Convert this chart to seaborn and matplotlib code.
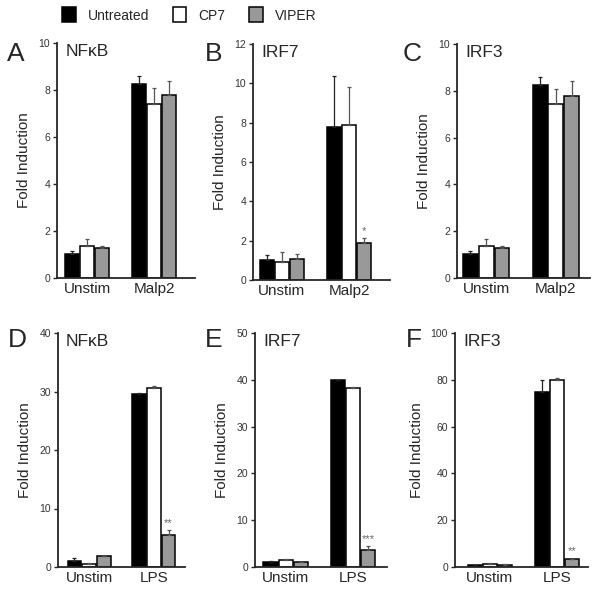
import matplotlib
matplotlib.use('Agg')
import matplotlib.pyplot as plt
import numpy as np
import pandas as pd
import seaborn as sns

sns.set_style('ticks')
plt.rcParams['font.family'] = ['Liberation Sans', 'DejaVu Sans']

# treatments and colours
treatments = ['Untreated', 'CP7', 'VIPER']
bar_colors = ['#000000', '#ffffff', '#999999']

# panel info
letters = ['A', 'B', 'C', 'D', 'E', 'F']
titles = ['NF\u03baB', 'IRF7', 'IRF3', 'NF\u03baB', 'IRF7', 'IRF3']
stims = [['Unstim', 'Malp2']] * 3 + [['Unstim', 'LPS']] * 3
ymax = [10, 12, 10, 40, 50, 100]
ystep = [2, 2, 2, 10, 10, 20]

# values: [Untreated, CP7, VIPER] for Unstim then stimulated
means_A = [[1.02, 1.35, 1.27], [8.25, 7.42, 7.78]]
errs_A = [[0.15, 0.3, 0.08], [0.35, 0.66, 0.62]]
means_B = [[1.0, 0.93, 1.06], [7.8, 7.88, 1.9]]
errs_B = [[0.27, 0.48, 0.25], [2.55, 1.95, 0.22]]
means_C = [[1.02, 1.35, 1.27], [8.25, 7.42, 7.78]]
errs_C = [[0.15, 0.3, 0.08], [0.35, 0.66, 0.62]]
means_D = [[0.97, 0.57, 1.85], [29.5, 30.6, 5.55]]
errs_D = [[0.5, 0.1, 0.05], [0.2, 0.4, 0.75]]
means_E = [[1.05, 1.4, 1.05], [39.9, 38.2, 3.55]]
errs_E = [[0.25, 0.25, 0.1], [0.15, 0.25, 0.85]]
means_F = [[0.7, 1.4, 1.0], [74.6, 80.0, 3.4]]
errs_F = [[0.2, 0.4, 0.1], [5.4, 0.7, 0.1]]
all_means = [means_A, means_B, means_C, means_D, means_E, means_F]
all_errs = [errs_A, errs_B, errs_C, errs_D, errs_E, errs_F]

# significance stars on VIPER stimulated bar
stars = ['', '*', '', '**', '***', '**']

# layout (pixels in 600x595 figure): left, right, top, bottom
boxes = [(57, 195, 43, 278), (253, 390, 44, 280), (457, 590, 44, 278),
         (58, 185, 333, 567), (255, 387, 333, 567), (455, 588, 333, 567)]
xlims = [(-0.45, 1.61), (-0.43, 1.61), (-0.42, 1.49),
         (-0.48, 1.48), (-0.46, 1.51), (-0.52, 1.46)]
letter_pos = [(7, 42), (205, 42), (403, 42), (8, 328), (205, 328), (406, 328)]

W, H = 600, 595
fig = plt.figure(figsize=(6, 5.95), dpi=100)

handles = None
for i in range(6):
    l, r, t, b = boxes[i]
    ax = fig.add_axes([l / W, 1 - b / H, (r - l) / W, (b - t) / H])
    rows = []
    for si, s in enumerate(stims[i]):
        for ti, tr in enumerate(treatments):
            rows.append({'stim': s, 'treatment': tr, 'value': all_means[i][si][ti]})
    df = pd.DataFrame(rows)
    sns.barplot(data=df, x='stim', y='value', hue='treatment',
                order=stims[i], hue_order=treatments,
                palette=bar_colors, edgecolor='black', linewidth=1.1,
                width=0.68, gap=0.06, errorbar=None, ax=ax, legend=(i == 0))
    if i == 0:
        handles, labels = ax.get_legend_handles_labels()
        ax.get_legend().remove()

    # upper error bars
    bar_conts = list(ax.containers)
    for ti, cont in enumerate(bar_conts):
        for si, bar in enumerate(cont.patches):
            xc = bar.get_x() + bar.get_width() / 2
            h = bar.get_height()
            ax.errorbar(xc, h, yerr=[[0], [all_errs[i][si][ti]]], fmt='none',
                        ecolor='#222222' if ti == 0 else '#555555',
                        elinewidth=0.9, capsize=1.5, capthick=0.9, zorder=1)
            if ti == 2 and si == 1 and stars[i]:
                ax.text(xc, h + all_errs[i][si][ti] + ymax[i] * 0.01, stars[i],
                        ha='center', va='bottom', fontsize=8, color='#666666')

    ax.set_ylim(0, ymax[i])
    ax.set_xlim(*xlims[i])
    ax.set_yticks(np.arange(0, ymax[i] + 1, ystep[i]))
    ax.tick_params(axis='y', length=3, width=1, labelsize=7.5, labelcolor='#333333', pad=2)
    ax.tick_params(axis='x', length=0, labelsize=11, pad=3)
    ax.set_xlabel('')
    ax.set_ylabel('Fold Induction', fontsize=11, labelpad=5)
    sns.despine(ax=ax)
    for sp in ['left', 'bottom']:
        ax.spines[sp].set_linewidth(1.3)
    ax.text(0.06, 0.995, titles[i], transform=ax.transAxes, ha='left', va='top', fontsize=12.5)

    lx, ly = letter_pos[i]
    fig.text(lx / W, 1 - ly / H, letters[i], ha='left', va='top', fontsize=19)

fig.legend(handles, labels, loc='center', bbox_to_anchor=(0.315, 1 - 15 / H), ncol=3,
           frameon=False, fontsize=10, handlelength=1.0, handleheight=1.25,
           columnspacing=1.7, handletextpad=0.85)

fig.savefig('out.png', dpi=100)
